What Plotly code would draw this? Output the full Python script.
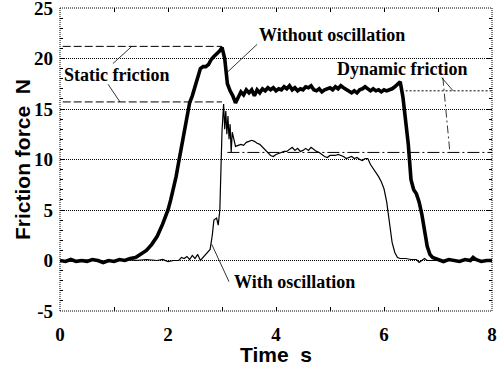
import plotly.graph_objects as go

# ---------------- data ----------------
# Without oscillation (thick line)
t_without = [0.0, 0.1, 0.2, 0.3, 0.4, 0.5, 0.6, 0.7, 0.8, 0.9, 1.0, 1.1, 1.2, 1.3, 1.4,
             1.5, 1.6, 1.7, 1.8, 1.9, 2.0, 2.05, 2.1, 2.15, 2.2, 2.25, 2.3, 2.35, 2.4, 2.45,
             2.5, 2.55, 2.6, 2.65, 2.7, 2.75, 2.8, 2.85, 2.9, 2.95, 3.0, 3.05, 3.08, 3.1,
             3.15, 3.2, 3.25, 3.3, 3.35, 3.4, 3.45, 3.5, 3.55, 3.6, 3.65, 3.7, 3.75, 3.8,
             3.85, 3.9, 3.95, 4.0, 4.05, 4.1, 4.15, 4.2, 4.25, 4.3, 4.35, 4.4, 4.45, 4.5,
             4.55, 4.6, 4.65, 4.7, 4.75, 4.8, 4.85, 4.9, 4.95, 5.0, 5.05, 5.1, 5.15, 5.2,
             5.25, 5.3, 5.35, 5.4, 5.45, 5.5, 5.55, 5.6, 5.65, 5.7, 5.75, 5.8, 5.85, 5.9,
             5.95, 6.0, 6.05, 6.1, 6.15, 6.2, 6.25, 6.3, 6.35, 6.4, 6.45, 6.5, 6.55, 6.6,
             6.65, 6.7, 6.75, 6.8, 6.85, 6.9, 7.0, 7.1, 7.2, 7.3, 7.4, 7.5, 7.6, 7.65, 7.7,
             7.8, 7.9, 8.0]
f_without = [0.0, -0.1, 0.1, -0.1, 0.0, -0.1, 0.1, 0.0, -0.2, 0.0, -0.1, 0.1, 0.0, 0.2, 0.3,
             0.6, 1.0, 1.6, 2.4, 3.6, 5.0, 6.0, 7.0, 8.3, 9.8, 11.3, 12.8, 14.3, 15.6, 16.3,
             17.3, 18.3, 19.0, 19.2, 19.2, 19.4, 19.9, 20.2, 20.4, 20.7, 21.1, 20.0, 18.5, 17.5,
             16.8, 16.3, 15.6, 16.2, 16.7, 16.4, 16.9, 16.6, 16.9, 16.3, 16.9, 16.6, 17.0, 16.8,
             17.1, 16.9, 17.1, 16.8, 17.0, 16.9, 17.2, 17.0, 17.3, 16.9, 17.1, 16.8, 17.0, 16.9,
             17.2, 17.1, 17.3, 16.9, 16.8, 17.0, 16.7, 16.9, 17.0, 17.1, 16.9, 17.2, 17.0, 17.3,
             17.1, 16.9, 16.7, 16.6, 16.8, 16.6, 16.9, 17.0, 17.2, 17.0, 16.8, 17.0, 16.8, 16.9,
             16.7, 16.9, 16.8, 16.9, 17.0, 17.2, 17.5, 17.7, 16.2, 14.0, 11.5, 8.0, 7.0, 6.6,
             5.8, 4.6, 3.0, 1.4, 0.6, 0.3, 0.1, -0.1, 0.1, 0.0, -0.1, 0.1, 0.0, 0.3, 0.1,
             -0.1, 0.0, 0.0]

# With oscillation (thin line)
t_with = [0.0, 0.2, 0.4, 0.6, 0.8, 1.0, 1.2, 1.4, 1.6, 1.8, 1.9, 2.0, 2.1, 2.2, 2.25, 2.3,
          2.35, 2.4, 2.45, 2.5, 2.55, 2.6, 2.65, 2.7, 2.78, 2.82, 2.85, 2.9, 2.93, 2.96, 2.98,
          3.0, 3.03, 3.05, 3.07, 3.09, 3.11, 3.13, 3.15, 3.17, 3.19, 3.22, 3.25, 3.3, 3.35,
          3.4, 3.45, 3.5, 3.55, 3.6, 3.65, 3.7, 3.75, 3.8, 3.85, 3.9, 3.95, 4.0, 4.05, 4.1,
          4.15, 4.2, 4.25, 4.3, 4.35, 4.4, 4.45, 4.5, 4.55, 4.6, 4.65, 4.7, 4.75, 4.8, 4.85,
          4.9, 4.95, 5.0, 5.05, 5.1, 5.15, 5.2, 5.25, 5.3, 5.35, 5.4, 5.45, 5.5, 5.55, 5.6,
          5.65, 5.7, 5.75, 5.8, 5.85, 5.9, 5.95, 6.0, 6.05, 6.1, 6.15, 6.2, 6.25, 6.3, 6.4,
          6.5, 6.6, 6.65, 6.7, 6.75, 6.8, 7.0, 7.5, 8.0]
f_with = [0.0, -0.1, 0.1, 0.0, -0.1, 0.0, 0.1, 0.0, 0.1, 0.0, 0.1, -0.1, 0.0, 0.0, 0.3, 0.2,
          0.4, 0.1, 0.5, 0.2, 0.6, 0.0, 0.3, 0.6, 1.1, 2.5, 4.0, 4.2, 3.5, 5.0, 9.0,
          12.8, 15.5, 13.0, 14.8, 12.5, 14.3, 12.0, 13.5, 10.7, 12.7, 11.8, 11.3, 11.4, 11.5,
          11.4, 11.7, 11.8, 11.9, 11.8, 11.6, 11.5, 11.2, 10.9, 10.6, 10.4, 10.3, 10.5, 10.6, 10.7,
          10.8, 10.8, 11.0, 11.2, 10.9, 11.1, 10.8, 10.9, 11.1, 10.9, 11.2, 11.0, 10.8, 10.7, 10.5,
          10.3, 10.2, 10.4, 10.4, 10.4, 10.5, 10.4, 10.3, 10.1, 10.2, 10.3, 10.1, 10.2, 10.0, 9.9,
          10.1, 10.1, 9.5, 9.1, 8.8, 8.3, 7.8, 7.1, 5.8, 3.8, 1.8, 0.8, 0.3, 0.2, 0.2,
          0.1, 0.1, -0.2, 0.0, 0.2, 0.0, 0.0, 0.0, 0.0]

static_levels = [21.2, 15.7]      # static friction reference levels
dynamic_levels = [16.8, 10.7]     # dynamic friction reference levels
x_ticks = [0, 2, 4, 6, 8]
y_ticks = [-5, 0, 5, 10, 15, 20, 25]

# ---------------- figure ----------------
fig = go.Figure()
fig.add_trace(go.Scatter(x=t_with, y=f_with, mode="lines",
                         line=dict(color="black", width=1.2), showlegend=False))
fig.add_trace(go.Scatter(x=t_without, y=f_without, mode="lines",
                         line=dict(color="black", width=3.6), showlegend=False))

shapes = []
# frame (dotted)
for (x0, y0, x1, y1) in [(0, 0, 1, 0), (0, 1, 1, 1), (0, 0, 0, 1), (1, 0, 1, 1)]:
    shapes.append(dict(type="line", xref="paper", yref="paper", x0=x0, y0=y0, x1=x1, y1=y1,
                       line=dict(color="black", width=1, dash="1px,1px")))
# static friction lines
for lv in static_levels:
    shapes.append(dict(type="line", x0=0.05, x1=3.0, y0=lv, y1=lv,
                       line=dict(color="black", width=1, dash="8px,3px")))
# dynamic friction lines
shapes.append(dict(type="line", x0=6.4, x1=8.0, y0=dynamic_levels[0], y1=dynamic_levels[0],
                   line=dict(color="black", width=1, dash="2px,2px")))
shapes.append(dict(type="line", x0=3.1, x1=8.0, y0=dynamic_levels[1], y1=dynamic_levels[1],
                   line=dict(color="black", width=1, dash="12px,3px,2px,3px")))
# leader lines
leaders = [
    (0.98, 19.5, 1.33, static_levels[0], "solid"),
    (0.89, 17.45, 1.11, static_levels[1], "solid"),
    (3.65, 21.4, 3.11, 18.7, "solid"),
    (7.07, 18.1, 7.28, dynamic_levels[0], "solid"),
    (7.09, 18.1, 7.22, dynamic_levels[1], "8px,3px,2px,3px"),
    (2.81, 1.6, 3.13, -2.1, "solid"),
]
for x0, y0, x1, y1, d in leaders:
    shapes.append(dict(type="line", x0=x0, y0=y0, x1=x1, y1=y1,
                       line=dict(color="black", width=0.8, dash=d)))

serif = "Liberation Serif, Times New Roman, serif"
sans = "Liberation Sans, Arial, sans-serif"
ann_font = dict(family=serif, size=18, color="black")
annotations = [
    dict(x=1.04, y=18.4, text="<b>Static friction</b>", showarrow=False, font=ann_font),
    dict(x=5.04, y=22.35, text="<b>Without oscillation</b>", showarrow=False, font=ann_font),
    dict(x=6.33, y=19.0, text="<b>Dynamic friction</b>", showarrow=False, font=ann_font),
    dict(x=4.35, y=-2.15, text="<b>With oscillation</b>", showarrow=False, font=ann_font),
    dict(xref="paper", yref="paper", x=0.5, y=0, yshift=-43, yanchor="middle",
         text="<b>Time  s</b>", showarrow=False,
         font=dict(family=sans, size=21, color="black")),
    dict(xref="paper", yref="paper", x=0, xshift=-51, y=0.5, textangle=-90,
         text="<b>Friction force  N</b>", showarrow=False,
         font=dict(family=sans, size=21, color="black")),
]

tickfont = dict(family=serif, size=19, color="black")
fig.update_layout(
    width=500, height=365,
    margin=dict(l=60, r=8, t=8, b=54),
    paper_bgcolor="white", plot_bgcolor="white",
    shapes=shapes, annotations=annotations,
    xaxis=dict(range=[0, 8], tickvals=x_ticks, ticktext=[f"<b>{v}</b>" for v in x_ticks],
               ticks="inside", ticklen=4, tickcolor="black", mirror="ticks",
               minor=dict(dtick=1, ticks="inside", ticklen=4, tickcolor="black"),
               showgrid=False, zeroline=False, showline=False, automargin=False,
               tickfont=tickfont, ticklabelstandoff=10, ticklabeloverflow="allow"),
    yaxis=dict(range=[-5, 25], tickvals=y_ticks, ticktext=[f"<b>{v}</b>" for v in y_ticks],
               ticks="inside", ticklen=5, tickcolor="black", mirror="ticks",
               minor=dict(dtick=1, ticks="inside", ticklen=3, tickcolor="black"),
               showgrid=True, gridcolor="black", griddash="1px,1px", gridwidth=1,
               zeroline=False, showline=False, automargin=False,
               tickfont=tickfont, ticklabelstandoff=6, ticklabeloverflow="allow"),
)

fig.write_html("out.html", config={"displayModeBar": False},
               post_script="document.body.style.margin='0';")
